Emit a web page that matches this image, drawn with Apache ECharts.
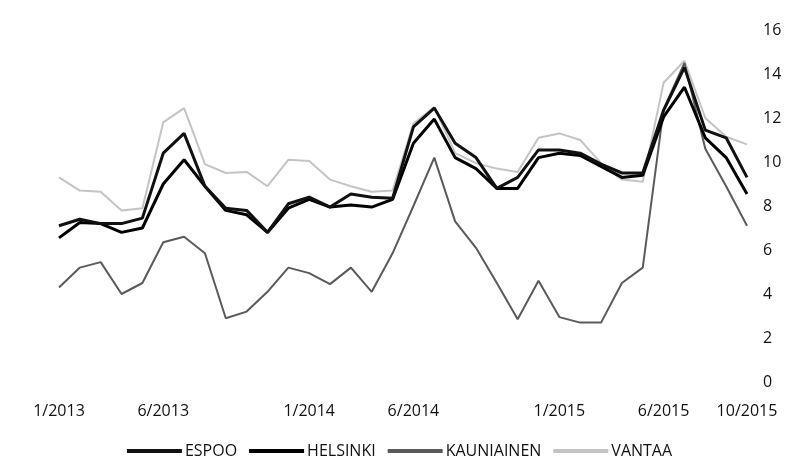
<!DOCTYPE html>
<html>
<head>
<meta charset="utf-8">
<script src="https://cdn.jsdelivr.net/npm/echarts@6/dist/echarts.min.js"></script>
<style>
  html, body { margin: 0; padding: 0; background: #fff; }
  #main { width: 799px; height: 469px; }
</style>
</head>
<body>
<div id="main"></div>
<script>
// months 1/2013 .. 10/2015
var months = [
  '1/2013','2/2013','3/2013','4/2013','5/2013','6/2013','7/2013','8/2013','9/2013','10/2013','11/2013','12/2013',
  '1/2014','2/2014','3/2014','4/2014','5/2014','6/2014','7/2014','8/2014','9/2014','10/2014','11/2014','12/2014',
  '1/2015','2/2015','3/2015','4/2015','5/2015','6/2015','7/2015','8/2015','9/2015','10/2015'
];
var shownLabels = ['1/2013','6/2013','1/2014','6/2014','1/2015','6/2015','10/2015'];

var espoo = [7.1, 7.4, 7.2, 7.2, 7.45, 10.4, 11.3, 8.9, 7.9, 7.8, 6.8, 8.1,
  8.4, 7.95, 8.55, 8.4, 8.35, 11.6, 12.45, 10.85, 10.2, 8.8, 9.3, 10.55,
  10.55, 10.4, 9.9, 9.5, 9.5, 12.35, 14.3, 11.45, 11.1, 9.3];
var helsinki = [6.55, 7.25, 7.2, 6.8, 7.0, 9.0, 10.1, 8.9, 7.8, 7.6, 6.8, 7.9,
  8.3, 7.95, 8.05, 7.95, 8.3, 10.85, 11.95, 10.2, 9.7, 8.8, 8.8, 10.2,
  10.4, 10.3, 9.8, 9.3, 9.4, 12.05, 13.4, 11.1, 10.2, 8.55];
var kauniainen = [4.3, 5.2, 5.45, 4.0, 4.5, 6.35, 6.6, 5.85, 2.9, 3.2, 4.1, 5.2,
  4.95, 4.45, 5.2, 4.1, 5.85, 8.0, 10.2, 7.3, 6.1, 4.5, 2.85, 4.6,
  2.95, 2.7, 2.7, 4.5, 5.2, 12.4, 14.5, 10.6, 8.9, 7.1];
var vantaa = [9.3, 8.7, 8.65, 7.8, 7.9, 11.8, 12.45, 9.9, 9.5, 9.55, 8.9, 10.1,
  10.05, 9.2, 8.9, 8.65, 8.7, 11.75, 12.5, 10.4, 9.95, 9.7, 9.55, 11.1,
  11.3, 11.0, 9.95, 9.2, 9.1, 13.6, 14.6, 12.0, 11.15, 10.8];

var names = ['ESPOO', 'HELSINKI', 'KAUNIAINEN', 'VANTAA'];
var colors = ['#111111', '#000000', '#5a5a5a', '#c4c4c4'];
var widths = [3, 3, 2, 2];
var values = [espoo, helsinki, kauniainen, vantaa];

var chart = echarts.init(document.getElementById('main'));
var series = names.map(function (n, i) {
  return {
    name: n,
    type: 'line',
    data: values[i],
    symbol: 'none',
    color: colors[i],
    lineStyle: { color: colors[i], width: widths[i] },
    z: 10 - i
  };
});

var option = {
  animation: false,
  backgroundColor: '#fff',
  textStyle: { fontFamily: 'Open Sans' },
  grid: { left: 59, right: 52, top: 30, bottom: 87 },
  legend: {
    bottom: 5,
    left: 'center',
    icon: 'rect',
    itemWidth: 55,
    itemHeight: 4,
    itemGap: 12,
    textStyle: { color: '#111', fontSize: 16, padding: [0, 0, 0, -2] },
    data: names
  },
  xAxis: {
    type: 'category',
    data: months,
    boundaryGap: false,
    axisLine: { show: false },
    axisTick: { show: false },
    axisLabel: {
      color: '#111',
      fontSize: 16,
      margin: 21,
      interval: function (idx, val) { return shownLabels.indexOf(val) >= 0; }
    }
  },
  yAxis: {
    type: 'value',
    position: 'right',
    min: 0,
    max: 16,
    interval: 2,
    splitLine: { show: false },
    axisLine: { show: false },
    axisTick: { show: false },
    axisLabel: { color: '#111', fontSize: 16, margin: 16, align: 'left' }
  },
  series: series
};
chart.setOption(option);
</script>
</body>
</html>
